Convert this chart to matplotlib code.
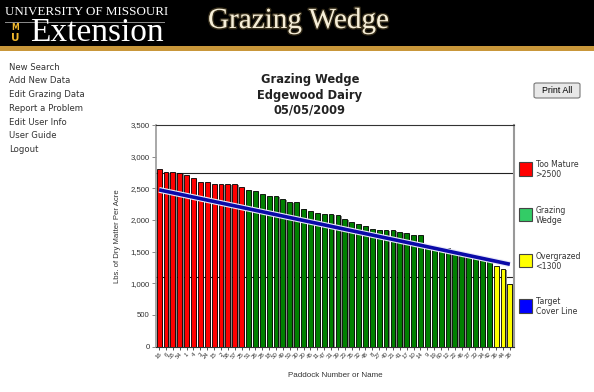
import numpy as np
import matplotlib.pyplot as plt
import matplotlib.patheffects as pe
from matplotlib.patches import Rectangle, FancyBboxPatch

# Paddock data (lbs dry matter per acre), sorted high to low
paddocks = ['16', '6', '55', '54', '1', '4', '3', '24', '15', '2', '58', '57', '25',
            '51', '26', '28', '18', '50', '49', '53', '30', '20', '45', '11', '47',
            '31', '39', '23', '35', '32', '48', '8', '27', '40', '21', '41', '17',
            '10', '14', '9', '19', '60', '12', '22', '46', '37', '33', '34', '42',
            '36', '44', '38']
cover = [2800, 2752, 2752, 2737, 2705, 2658, 2604, 2604, 2563, 2563, 2563, 2563, 2525,
         2477, 2457, 2410, 2383, 2383, 2335, 2286, 2286, 2180, 2136, 2106, 2086,
         2086, 2073, 2010, 1964, 1932, 1904, 1857, 1845, 1845, 1833, 1804, 1789,
         1762, 1762, 1588, 1567, 1561, 1561, 1498, 1473, 1446, 1430, 1406, 1370,
         1277, 1220, 995]
target_line = [2475, 1300]   # first paddock -> last paddock
upper_line = 2740
lower_line = 1100
too_mature = 2500
overgrazed = 1300

legend_labels = ['Too Mature\n>2500', 'Grazing\nWedge', 'Overgrazed\n<1300', 'Target\nCover Line']
legend_colors = ['#FF0000', '#33CC66', '#FFFF00', '#0000FF']
menu_items = ['New Search', 'Add New Data', 'Edit Grazing Data', 'Report a Problem',
              'Edit User Info', 'User Guide', 'Logout']
yticks = np.arange(0, 3501, 500)

W, H = 594, 392
fig = plt.figure(figsize=(W / 100, H / 100), dpi=100)
fig.patch.set_facecolor('white')

def fx(px):
    return px / W

def fy(py):
    return 1 - py / H

# header band
fig.patches.append(Rectangle((0, fy(46)), 1, 46 / H, transform=fig.transFigure,
                             facecolor='black', edgecolor='none', zorder=0))
fig.patches.append(Rectangle((0, fy(51)), 1, 5 / H, transform=fig.transFigure,
                             facecolor='#C9973A', edgecolor='none', zorder=0))
fig.text(fx(5), fy(12), 'UNIVERSITY OF MISSOURI', family='Liberation Serif', fontsize=9.4,
         color='white', va='center', ha='left')
fig.patches.append(Rectangle((fx(5), fy(22.5)), 160 / W, 0.8 / H, transform=fig.transFigure,
                             facecolor='#888888', edgecolor='none', zorder=1))
fig.text(fx(30), fy(32.5), 'Extension', family='Liberation Serif', fontsize=24,
         color='white', va='center', ha='left')
fig.text(fx(15), fy(28), 'M', family='DejaVu Sans', fontsize=5.5, weight='heavy',
         color='#F1B82D', va='center', ha='center')
fig.text(fx(15), fy(38), 'U', family='DejaVu Sans', fontsize=7.5, weight='heavy',
         color='#F1B82D', va='center', ha='center')
fig.text(fx(208), fy(21), 'Grazing Wedge', family='Liberation Serif', fontsize=21,
         color='#F6EED8', va='center', ha='left',
         path_effects=[pe.withStroke(linewidth=2, foreground='#6a5a35', alpha=0.5)])

# left menu
for i, item in enumerate(menu_items):
    fig.text(fx(9), fy(67 + i * 13.8), item, family='DejaVu Sans', fontsize=6.1,
             color='#333333', va='center', ha='left')

# chart title
fig.text(fx(310), fy(95), 'Grazing Wedge\nEdgewood Dairy\n05/05/2009', family='DejaVu Sans',
         fontsize=8.3, weight='bold', color='#222222', ha='center', va='center',
         linespacing=1.2)

# Print All button
fig.patches.append(FancyBboxPatch((fx(534), fy(98)), 46 / W, 15 / H,
                                  boxstyle='round,pad=0,rounding_size=0.004',
                                  transform=fig.transFigure, facecolor='#E8E8E8',
                                  edgecolor='#777777', linewidth=0.8, zorder=1))
fig.text(fx(557), fy(90.5), 'Print All', family='Liberation Sans', fontsize=6.4,
         color='black', ha='center', va='center', zorder=2)

# chart
ax = fig.add_axes([fx(156), fy(346.5), (514 - 156) / W, (346.5 - 125) / H])
x = np.arange(len(cover))
cover = np.array(cover)
colors = np.where(cover > too_mature, '#FF0000',
                  np.where(cover < overgrazed, '#FFFF00', '#008000'))

ax.axhline(upper_line, color='#222222', lw=0.8, zorder=1)
ax.axhline(lower_line, color='#222222', lw=0.8, zorder=1)
ax.bar(x + 0.2, cover - 15, width=0.7, color='#8a8a8a', edgecolor='none', zorder=2)
ax.bar(x, cover, width=0.7, color=colors, edgecolor='black', linewidth=0.6, zorder=3)
ax.plot([x[0], x[-1]], target_line, color='#E8E8F8', lw=4.2, zorder=4, solid_capstyle='butt')
ax.plot([x[0], x[-1]], target_line, color='#0A0AA8', lw=2.6, zorder=5, solid_capstyle='butt')

ax.set_xlim(-0.45, len(cover) - 0.4)
ax.set_ylim(0, 3500)
ax.set_yticks(yticks)
ax.set_yticklabels([f'{v:,}' for v in yticks], family='Liberation Sans', fontsize=5.6,
                   color='#333333')
ax.set_xticks(x)
ax.set_xticklabels(paddocks, rotation=45, ha='right', rotation_mode='anchor',
                   family='Liberation Sans', fontsize=4.4, color='#333333')
ax.tick_params(axis='y', length=3, width=0.6, color='#777777', pad=1.5)
ax.tick_params(axis='x', length=2.5, width=0.6, color='#333333', pad=1)
ax.set_ylabel('Lbs. of Dry Matter Per Acre', family='Liberation Sans', fontsize=5.6,
              color='#333333', labelpad=7)
ax.set_xlabel('Paddock Number or Name', family='Liberation Sans', fontsize=5.8,
              color='#333333', labelpad=9)
for side, c, w in [('left', '#999999', 1.2), ('right', '#999999', 1.5),
                   ('top', '#333333', 0.8), ('bottom', '#333333', 0.8)]:
    ax.spines[side].set_color(c)
    ax.spines[side].set_linewidth(w)

# legend
for i, (lab, col) in enumerate(zip(legend_labels, legend_colors)):
    top = 162 + i * 45.8
    fig.patches.append(Rectangle((fx(518.5), fy(top + 13.5)), 13.5 / W, 13.5 / H,
                                 transform=fig.transFigure, facecolor=col,
                                 edgecolor='#444444', linewidth=0.8, zorder=2))
    fig.text(fx(535.5), fy(top - 2), lab, family='DejaVu Sans', fontsize=5.6,
             color='#333333', ha='left', va='top', linespacing=1.15)

fig.savefig('out.png', dpi=100)
